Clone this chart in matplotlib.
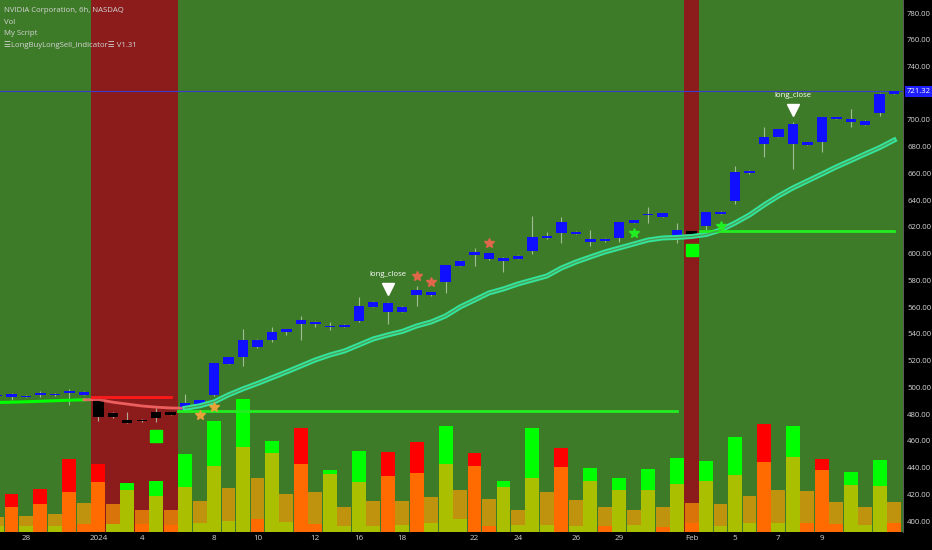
import numpy as np
import matplotlib
matplotlib.use("Agg")
import matplotlib.pyplot as plt
from matplotlib.transforms import blended_transform_factory

plt.rcParams['font.family'] = ['Open Sans', 'DejaVu Sans']

# ---- data (NVDA, 6h bars) ----
bars = list(range(-1, 62))
opens = [493.3, 492.9, 493.2, 494.2, 494.2, 496.2, 494.5, 492.4, 481.2, 475.7,
         474.7, 477.4, 479.4, 483.2, 487.7, 494.4, 517.6, 523.0, 530.1, 535.5,
         541.5, 547.7, 547.3, 545.2, 545.2, 549.7, 560.4, 563.4, 556.7, 569.2,
         568.9, 579.1, 591.1, 599.1, 600.3, 597.1, 596.3, 602.3, 611.6, 623.5,
         616.5, 611.0, 609.3, 611.6, 623.2, 629.0, 627.7, 617.8, 617.0, 620.7,
         629.9, 639.7, 660.2, 682.1, 687.5, 697.0, 683.3, 683.3, 700.7, 701.0,
         699.5, 705.5, 719.4]
highs = [495.0, 495.7, 494.6, 497.4, 496.0, 498.9, 497.3, 492.8, 481.6, 481.7,
         476.2, 484.7, 482.0, 495.1, 490.6, 518.5, 523.0, 543.7, 536.3, 545.5,
         544.0, 553.5, 549.9, 549.2, 547.3, 567.9, 564.4, 564.1, 560.7, 575.9,
         571.7, 591.9, 595.1, 604.3, 600.6, 597.4, 598.8, 628.2, 616.5, 627.5,
         616.8, 617.8, 611.6, 623.8, 625.5, 635.2, 630.5, 622.8, 617.3, 631.3,
         632.0, 665.8, 662.4, 695.0, 693.6, 698.3, 683.6, 702.3, 702.5, 708.0,
         699.8, 720.4, 721.7]
lows = [493.0, 490.6, 492.9, 492.9, 493.6, 486.9, 494.2, 475.2, 477.5, 473.5,
        474.4, 474.4, 479.1, 481.7, 487.4, 494.0, 517.3, 516.1, 529.8, 534.2,
        539.3, 535.5, 545.5, 543.0, 544.9, 549.2, 560.1, 547.3, 556.4, 560.9,
        568.6, 570.9, 590.8, 590.8, 595.5, 586.6, 596.0, 599.8, 611.3, 608.3,
        614.5, 605.8, 609.0, 609.0, 622.9, 622.8, 627.4, 607.8, 614.5, 617.8,
        629.6, 637.2, 659.9, 672.6, 687.2, 663.1, 681.2, 676.3, 700.4, 694.5,
        696.0, 703.0, 719.1]
closes = [494.6, 494.9, 494.0, 495.7, 494.9, 497.4, 497.0, 477.9, 477.9, 473.7,
          475.9, 481.5, 481.7, 488.2, 490.3, 518.1, 522.6, 535.5, 535.5, 541.7,
          543.7, 550.5, 548.7, 546.0, 547.0, 560.9, 564.1, 556.7, 560.4, 572.9,
          571.4, 591.6, 594.8, 601.1, 595.8, 594.8, 598.5, 612.7, 613.5, 615.3,
          614.8, 608.8, 611.3, 623.5, 625.2, 629.7, 630.2, 613.3, 614.8, 631.0,
          631.2, 661.1, 662.1, 687.5, 693.3, 682.1, 681.5, 702.0, 702.2, 698.7,
          696.3, 719.4, 721.32]
ma = [488.8, 489.0, 489.3, 489.7, 490.1, 490.5, 490.8, 491.0, 489.0, 487.6,
      486.2, 485.3, 484.7, 484.5, 486.3, 489.2, 494.5, 499.0, 503.0, 507.3,
      511.6, 516.1, 520.6, 524.3, 527.3, 531.8, 536.3, 539.3, 541.9, 546.0,
      549.0, 553.5, 560.2, 565.4, 570.7, 573.7, 577.4, 580.4, 583.4, 589.3,
      593.8, 597.6, 601.3, 604.3, 607.3, 610.3, 611.8, 612.2, 612.9, 614.4,
      617.7, 623.0, 629.0, 636.4, 643.2, 649.2, 654.4, 659.6, 664.9, 669.7,
      674.6, 679.4, 685.0]
vol = [6, 38, 6, 43, 6, 73, 8, 68, 8, 49, 8, 51, 7, 78, 9, 111, 11, 133, 13, 91,
       10, 104, 8, 62, 6, 81, 6, 80, 7, 90, 9, 106, 13, 79, 6, 51, 7, 104, 7, 84,
       6, 64, 6, 54, 7, 63, 5, 74, 9, 71, 6, 95, 9, 108, 9, 106, 9, 73, 8, 60,
       7, 72, 9]
vol_dir = "grgrgrrrggrgrgggggrggrrggggrgrgggrrggggrggrgggrgrggggrggrrrgg"
script_col = [15, 25, 16, 28, 18, 40, 29, 50, 28, 42, 22, 36, 22, 45, 31, 66, 44,
              85, 54, 79, 38, 68, 40, 58, 25, 50, 31, 56, 31, 59, 35, 68, 42, 66,
              33, 45, 22, 54, 40, 65, 32, 51, 25, 42, 22, 42, 25, 48, 29, 51, 28,
              57, 36, 70, 42, 75, 41, 62, 30, 47, 25, 46, 30]

bear_zones = [(5.5, 11.5), (46.5, 47.5)]
levels = [(5.56, 11.0, 493.1, '#ff1a1a'), (11.5, 46.0, 482.3, '#22ee22'),
          (47.6, 61.0, 616.8, '#22ee22')]
stars = [(13, 479.4, '#e8a23a'), (14, 485.7, '#e8a23a'), (28, 583.6, '#e2674a'),
         (29, 579.1, '#e2674a'), (33, 607.8, '#e2674a'), (43, 615.3, '#22ee22'),
         (49, 621.0, '#22ee22')]
squares = [(10, 463.7), (47, 602.8)]
close_signals = [(26, 574.0), (54, 707.5)]
last_price = 721.32

price_ticks = [400, 420, 440, 460, 480, 500, 520, 540, 560, 580, 600, 620, 640,
               660, 680, 700, 740, 760, 780]
xtick_pos = [1, 6, 9, 14, 17, 21, 24, 27, 32, 35, 39, 42, 47, 50, 53, 56]
xtick_lab = ['28', '2024', '4', '8', '10', '12', '16', '18', '22', '24', '26',
             '29', 'Feb', '5', '7', '9']

bg_green = '#3e7b29'
bg_red = '#8c1c1c'
txt = '#d4d4d4'

fig = plt.figure(figsize=(9.32, 5.5), dpi=100, facecolor='black')
rect = [0, 18 / 550, 903 / 932, 532 / 550]
xlim = (-0.795, 61.61)

# volume pane (behind)
axv = fig.add_axes(rect)
axv.set_facecolor(bg_green)
for a, b in bear_zones:
    axv.axvspan(a, b, color=bg_red, lw=0)
vcols = ['#00ff00' if d == 'g' else '#ff0000' for d in vol_dir]
axv.bar(bars, vol, width=0.96, color=vcols, lw=0)
axv.bar(bars, script_col, width=0.96, color='#ffa000', alpha=0.67, lw=0)
axv.set_ylim(0, 532)
axv.set_xlim(*xlim)
axv.set_xticks([])
axv.set_yticks([])
for s in axv.spines.values():
    s.set_visible(False)

# price pane
ax = fig.add_axes(rect, sharex=axv)
ax.patch.set_alpha(0)
ax.set_xlim(*xlim)
ax.set_ylim(391.96, 789.72)

bar_x = np.array(bars)
o = np.array(opens)
c = np.array(closes)
in_bear = np.array([any(a < x < b for a, b in bear_zones) for x in bars])
body_col = np.where(in_bear, '#000000', '#1010ff')
ax.vlines(bar_x, lows, highs, color='#b9cdb0', lw=0.8, alpha=0.8, zorder=3)
ax.bar(bar_x, np.maximum(np.abs(c - o), 0.8), bottom=np.minimum(o, c),
       width=0.72, color=body_col, lw=0, zorder=4)

# moving average: green / red / mint double line
ma = np.array(ma)
ax.plot(bar_x[:7], ma[:7], color='#00ff00', lw=2.2, zorder=5)
ax.plot(bar_x[6:14], ma[6:14], color='#ff6a6a', lw=2.0, alpha=0.85, zorder=5)
ax.plot(bar_x[13:], ma[13:], color='#33e59c', lw=3.6, zorder=5)
ax.plot(bar_x[13:], ma[13:], color='#4f9a52', lw=0.9, zorder=6)

for x0, x1, p, col in levels:
    ax.plot([x0, x1], [p, p], color=col, lw=2.0, zorder=5)

ax.axhline(last_price, color='#3b3bd0', lw=0.8, zorder=2)

for x, p, col in stars:
    ax.plot(x, p, marker='*', ms=7, color=col, mec=col, zorder=7)
for x, p in squares:
    ax.plot(x, p, marker='s', ms=8, color='#00ff00', zorder=7)
for x, p in close_signals:
    ax.plot(x, p, marker='v', ms=8, color='white', zorder=7)
    ax.text(x, p + 10.5, 'long_close', color='white', fontsize=5.6,
            ha='center', va='center', zorder=7)

# axes
ax.yaxis.tick_right()
ax.set_yticks(price_ticks)
ax.set_yticklabels([f'{v:.2f}' for v in price_ticks])
ax.tick_params(axis='y', colors=txt, labelsize=5.6, length=0, pad=3)
ax.set_xticks(xtick_pos)
ax.set_xticklabels(xtick_lab)
ax.tick_params(axis='x', colors=txt, labelsize=5.8, length=0, pad=2)
for name, s in ax.spines.items():
    s.set_visible(name == 'right')
ax.spines['right'].set_color('#6a6a6a')
ax.spines['right'].set_linewidth(0.6)

tr = blended_transform_factory(ax.transAxes, ax.transData)
ax.text(1.004, last_price, f'{last_price:.2f}', transform=tr, color='white',
        fontsize=5.6, ha='left', va='center', zorder=8,
        bbox=dict(boxstyle='square,pad=0.25', fc='#1e1eff', ec='none'))

legend = ['NVIDIA Corporation, 6h, NASDAQ', 'Vol', 'My Script',
          '\u2630LongBuyLongSell_Indicator\u2630 V1.31']
for k, line in enumerate(legend):
    fig.text(4 / 932, 1 - (11 + 11.3 * k) / 550, line, color=txt, fontsize=5.6,
             va='center', ha='left')

fig.savefig('out.png', dpi=100, facecolor='black')
